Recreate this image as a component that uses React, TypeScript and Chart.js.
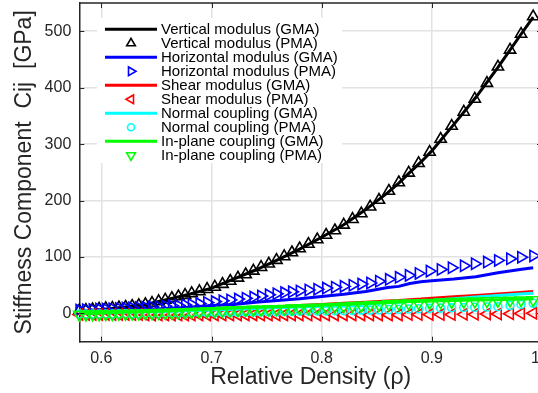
import React, { useEffect, useRef } from "react";
import { Chart, registerables } from "chart.js";

Chart.register(...registerables);

// ---------- data ----------
const xTicks = [0.6, 0.7, 0.8, 0.9, 1];
const yTicks = [0, 100, 200, 300, 400, 500];

// sample densities of the PMA (marker) series
const xPMA = [0.580, 0.586, 0.592, 0.598, 0.604, 0.610, 0.616, 0.622, 0.628, 0.634, 0.640, 0.646, 0.652, 0.658, 0.664, 0.670, 0.676, 0.682,
  0.689, 0.696, 0.703, 0.710, 0.717, 0.724, 0.731, 0.738, 0.745, 0.752, 0.759, 0.766, 0.773, 0.780,
  0.788, 0.796, 0.804, 0.812, 0.820, 0.828, 0.836, 0.844, 0.852,
  0.861, 0.870, 0.879, 0.888,
  0.898, 0.908, 0.918, 0.929, 0.939, 0.950, 0.960, 0.971, 0.981, 0.992];

// sample densities of the GMA (line) series
const xGMA = [0.580, 0.600, 0.620, 0.640, 0.660, 0.680, 0.700, 0.720, 0.740, 0.760, 0.780, 0.800, 0.820, 0.840, 0.860, 0.870, 0.880, 0.890, 0.900, 0.920, 0.940, 0.960, 0.980, 0.992];

const verticalGMA = [4, 7, 11, 16, 25, 34, 45, 61, 77, 95, 114, 135, 157, 184, 214, 231, 250, 268, 288, 335, 383, 436, 492, 525];
const verticalPMA = [5, 6, 7, 8, 9, 9.5, 10.5, 11.5, 13, 14.5, 16, 18.5, 21.5, 24, 27, 30, 32.5, 35.5,
  39, 43, 47, 52, 57.5, 63, 69, 75.5, 82, 88, 94.5, 101, 108, 115,
  123, 131, 139, 147, 157, 167, 177, 189, 201,
  217, 232, 249, 266,
  286, 309, 332, 357, 380, 408, 437, 467, 495, 526];

const horizontalGMA = [2, 3, 5, 7, 9, 11, 14, 16, 20, 23, 26, 30, 34, 39, 46, 48, 53, 56, 58, 61, 65, 72, 78, 81];
const horizontalPMA = [6, 6.5, 7, 8, 8, 8.5, 9, 9.5, 10, 10.5, 11, 11.5, 12, 13, 13.5, 14, 15, 16,
  17.5, 19.5, 21, 22.5, 24, 25.5, 27, 29, 31, 33, 35, 37, 38.5, 40,
  41.5, 43, 45, 46.5, 48, 50, 52, 54, 57,
  60.5, 64, 67.5, 71,
  75, 78, 81, 84.5, 88, 91, 94, 97, 99.5, 102];

const shearGMA = [1, 2, 3, 3.5, 4.5, 5.5, 7, 8.5, 10, 12, 14, 16, 18, 20, 22, 23, 24.5, 25.5, 27, 29.5, 32, 34.5, 37, 39];
const shearPMA = [-2, -2, -2, -2, -2, -2, -2, -2, -2, -2, -2.5, -2.5, -2.5, -2.5, -2.5, -2.5, -2.5, -2.5,
  -2.5, -2.5, -2.5, -2.5, -2.5, -2.5, -2.5, -2.5, -2.5, -2.5, -2.5, -2.5, -2.5, -2.5,
  -2.5, -2.5, -2.5, -2.5, -2.5, -2.5, -2.5, -2.5, -2.5,
  -2.5, -2.5, -2, -2,
  -2, -2, -2, -1.5, -1.5, -1, -1, -0.5, 0, 0.5];

const normalGMA = [1, 1.5, 2.5, 3, 4, 5, 6, 7.5, 9, 10.5, 12, 14, 15.5, 17, 19, 20, 21, 22, 23, 26, 29, 32, 34.5, 36];
const normalPMA = [-1, -1, -1, -1, -1, -1, -0.5, -0.5, -0.5, -0.5, 0, 0, 0, 0.5, 0.5, 0.5, 1, 1,
  1.5, 1.5, 1.5, 2, 2, 2, 2.5, 2.5, 3, 3, 3, 3.5, 3.5, 4,
  4, 4.5, 4.5, 5, 5, 5.5, 6, 6, 6.5,
  7, 7.5, 8, 8.5,
  9, 9.5, 10, 10.5, 11, 11.5, 12, 14, 16, 18];

const inplaneGMA = [0, 1, 2.5, 3.5, 5, 6.5, 8, 9.5, 11, 12, 13, 14.5, 16, 17.5, 19.5, 20.5, 21, 21.5, 22, 23, 24, 24.5, 25.5, 26];
const inplanePMA = [-2, -2, -1.5, -1.5, -1, -1, -0.5, -0.5, 0, 0, 0.5, 0.5, 1, 1, 1.5, 2, 2.5, 3,
  3.5, 4, 4.5, 5, 5.5, 6, 6.5, 7, 7, 7.5, 8, 8.5, 9, 9.5,
  10, 10.5, 11, 12, 12.5, 13.5, 14, 15, 15.5,
  16.5, 17.5, 18, 18.5,
  19, 20, 20.5, 21, 21.5, 22, 22.5, 23, 23.5, 24];

// ---------- styling ----------
const FONT = "'Liberation Sans', Arial, Helvetica, sans-serif";
const TEXT = "#262626";

type Series = {
  label: string;
  color: string;
  kind: "line" | "marker";
  style?: "triangle" | "circle";
  rot?: number;
  radius?: number;
  xs: number[];
  ys: number[];
};

const series: Series[] = [
  { label: "Vertical modulus (GMA)", color: "#000000", kind: "line", xs: xGMA, ys: verticalGMA },
  { label: "Vertical modulus (PMA)", color: "#000000", kind: "marker", style: "triangle", rot: 0, radius: 6.5, xs: xPMA, ys: verticalPMA },
  { label: "Horizontal modulus (GMA)", color: "#0000ff", kind: "line", xs: xGMA, ys: horizontalGMA },
  { label: "Horizontal modulus (PMA)", color: "#0000ff", kind: "marker", style: "triangle", rot: 90, radius: 6.5, xs: xPMA, ys: horizontalPMA },
  { label: "Shear modulus (GMA)", color: "#ff0000", kind: "line", xs: xGMA, ys: shearGMA },
  { label: "Shear modulus (PMA)", color: "#ff0000", kind: "marker", style: "triangle", rot: -90, radius: 6.5, xs: xPMA, ys: shearPMA },
  { label: "Normal coupling (GMA)", color: "#00ffff", kind: "line", xs: xGMA, ys: normalGMA },
  { label: "Normal coupling (PMA)", color: "#00ffff", kind: "marker", style: "circle", rot: 0, radius: 4, xs: xPMA, ys: normalPMA },
  { label: "In-plane coupling (GMA)", color: "#00ff00", kind: "line", xs: xGMA, ys: inplaneGMA },
  { label: "In-plane coupling (PMA)", color: "#00ff00", kind: "marker", style: "triangle", rot: 180, radius: 6.5, xs: xPMA, ys: inplanePMA },
];

function drawMarker(ctx: CanvasRenderingContext2D, s: Series, x: number, y: number, r: number) {
  ctx.save();
  ctx.strokeStyle = s.color;
  ctx.lineWidth = 1.6;
  ctx.beginPath();
  if (s.style === "circle") {
    ctx.arc(x, y, r, 0, Math.PI * 2);
  } else {
    let a = ((s.rot || 0) * Math.PI) / 180;
    const step = (2 * Math.PI) / 3;
    ctx.moveTo(x + Math.sin(a) * r, y - Math.cos(a) * r);
    a += step;
    ctx.lineTo(x + Math.sin(a) * r, y - Math.cos(a) * r);
    a += step;
    ctx.lineTo(x + Math.sin(a) * r, y - Math.cos(a) * r);
    ctx.closePath();
  }
  ctx.stroke();
  ctx.restore();
}

const boxPlugin = {
  id: "matlabBox",
  afterDraw(chart: any) {
    const { ctx, chartArea } = chart;
    const { left, right, top, bottom } = chartArea;
    const xs = chart.scales.x;
    const ys = chart.scales.y;
    ctx.save();
    // legend (white background, no border)
    ctx.fillStyle = "#ffffff";
    ctx.fillRect(97, 18, 245, 145);
    series.forEach((s, i) => {
      const y = 29.3 + 14 * i;
      if (s.kind === "line") {
        ctx.strokeStyle = s.color;
        ctx.lineWidth = 3;
        ctx.beginPath();
        ctx.moveTo(105, y);
        ctx.lineTo(157, y);
        ctx.stroke();
      } else {
        drawMarker(ctx, s, 131, y, s.style === "circle" ? 3.5 : 5);
      }
      ctx.fillStyle = "#000000";
      ctx.font = `15px ${FONT}`;
      ctx.textBaseline = "middle";
      ctx.textAlign = "left";
      ctx.fillText(s.label, 161, y + 0.5);
    });
    // top and right border
    ctx.strokeStyle = TEXT;
    ctx.lineWidth = 1.5;
    ctx.beginPath();
    ctx.moveTo(left, top);
    ctx.lineTo(right, top);
    ctx.lineTo(right, bottom);
    ctx.stroke();
    // inward ticks
    ctx.lineWidth = 1;
    const tl = 5;
    ctx.beginPath();
    xTicks.forEach((v) => {
      const px = Math.round(xs.getPixelForValue(v)) + 0.5;
      ctx.moveTo(px, bottom);
      ctx.lineTo(px, bottom - tl);
      ctx.moveTo(px, top);
      ctx.lineTo(px, top + tl);
    });
    yTicks.forEach((v) => {
      const py = Math.round(ys.getPixelForValue(v)) + 0.5;
      ctx.moveTo(left, py);
      ctx.lineTo(left + tl, py);
      ctx.moveTo(right, py);
      ctx.lineTo(right - tl, py);
    });
    ctx.stroke();
    ctx.restore();
  },
};

export default function App() {
  const ref = useRef<HTMLCanvasElement | null>(null);

  useEffect(() => {
    if (!ref.current) return;
    const n = series.length;
    const datasets = series.map((s, i) => {
      const data = s.xs.map((x, k) => ({ x, y: s.ys[k] }));
      if (s.kind === "line") {
        return {
          label: s.label,
          data,
          borderColor: s.color,
          backgroundColor: s.color,
          borderWidth: 3,
          pointRadius: 0,
          showLine: true,
          tension: 0,
          order: n - i,
        };
      }
      return {
        label: s.label,
        data,
        showLine: false,
        pointStyle: s.style,
        rotation: s.rot,
        pointRotation: s.rot,
        pointRadius: s.radius,
        pointBorderColor: s.color,
        pointBackgroundColor: "rgba(0,0,0,0)",
        pointBorderWidth: 1.6,
        borderColor: s.color,
        backgroundColor: "rgba(0,0,0,0)",
        clip: 8,
        order: n - i,
      };
    });

    const chart = new Chart(ref.current, {
      type: "scatter",
      data: { datasets: datasets as any },
      options: {
        responsive: false,
        animation: false,
        devicePixelRatio: 1,
        layout: { autoPadding: false, padding: { left: 0, right: 18, top: 3, bottom: 0 } },
        plugins: { legend: { display: false }, tooltip: { enabled: false } },
        scales: {
          x: {
            type: "linear",
            min: 0.58,
            max: 1.0,
            afterBuildTicks: (sc: any) => {
              sc.ticks = xTicks.map((v) => ({ value: v }));
            },
            afterFit: (sc: any) => {
              sc.height = 51.3;
              sc.paddingLeft = 0;
              sc.paddingRight = 0;
            },
            grid: { color: "#e2e2e2", lineWidth: 1.5, drawTicks: false },
            border: { display: true, color: TEXT, width: 1.5 },
            ticks: {
              color: TEXT,
              font: { family: FONT, size: 16 },
              padding: 7,
              maxRotation: 0,
              autoSkip: false,
            },
            title: {
              display: true,
              text: "Relative Density (ρ)",
              color: TEXT,
              font: { family: FONT, size: 23 },
              padding: { top: 0, bottom: 2 },
            },
          },
          y: {
            type: "linear",
            min: -50,
            max: 550,
            afterBuildTicks: (sc: any) => {
              sc.ticks = yTicks.map((v) => ({ value: v }));
            },
            afterFit: (sc: any) => {
              sc.width = 79.3;
              sc.paddingTop = 0;
              sc.paddingBottom = 0;
            },
            grid: { color: "#e2e2e2", lineWidth: 1.5, drawTicks: false },
            border: { display: true, color: TEXT, width: 1.5 },
            ticks: {
              color: TEXT,
              font: { family: FONT, size: 16 },
              padding: 8,
              autoSkip: false,
            },
            title: {
              display: true,
              text: "Stiffness Component  Cij  [GPa]",
              color: TEXT,
              font: { family: FONT, size: 23 },
              padding: { top: 11, bottom: 0 },
            },
          },
        },
      },
      plugins: [boxPlugin],
    });
    return () => chart.destroy();
  }, []);

  return (
    <div
      style={{
        position: "fixed",
        left: 0,
        top: 0,
        width: 538,
        height: 393,
        overflow: "hidden",
        background: "#ffffff",
      }}
    >
      <canvas ref={ref} width={560} height={393} style={{ display: "block" }} />
    </div>
  );
}
